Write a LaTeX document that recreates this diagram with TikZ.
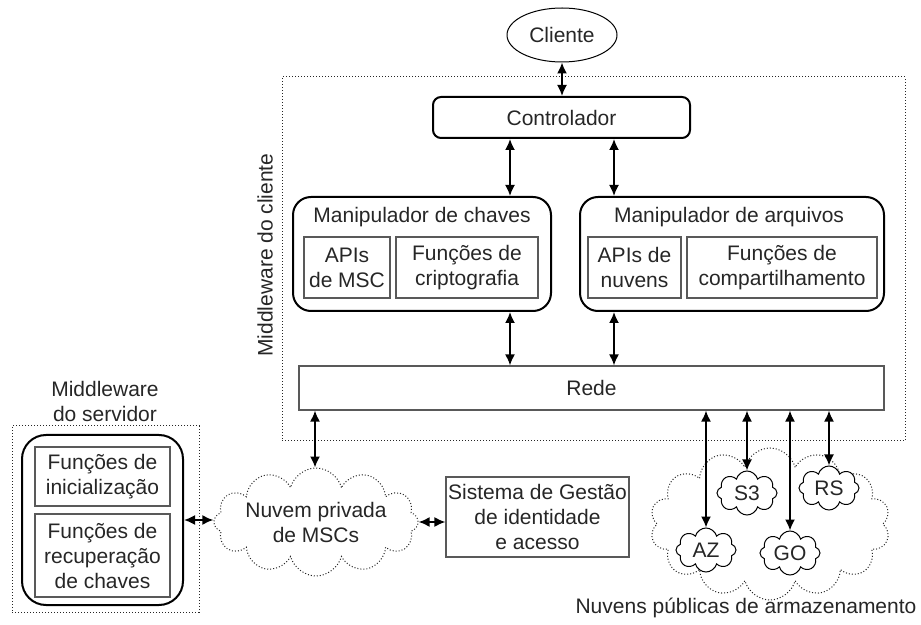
\documentclass[tikz,border=0pt]{standalone}
\usepackage{fontspec}
\setmainfont{Liberation Sans}
\usetikzlibrary{arrows.meta,shapes.geometric,shapes.symbols}
\begin{document}
\begin{tikzpicture}[x=0.5pt,y=-0.5pt,
  every node/.style={font=\fontsize{10.5}{12.5}\selectfont, text=black!85, inner sep=0pt, align=center},
  bigbox/.style={draw, line width=1pt, rounded corners=9pt},
  ctrlbox/.style={draw, line width=1pt, rounded corners=4pt},
  innerbox/.style={draw=black!65, line width=0.6pt},
  dotbox/.style={draw=black!85, densely dotted, line width=0.5pt},
  arr/.style={{Latex[length=5.5pt,width=5pt]}-{Latex[length=5.5pt,width=5pt]}, line width=0.85pt},
  bigcloud/.style={cloud, cloud puffs=14, cloud ignores aspect, draw=black!85, densely dotted, line width=0.5pt, fill=white},
  smallcloud/.style={cloud, cloud puffs=8, cloud ignores aspect, draw, line width=0.5pt, fill=white, minimum width=30pt, minimum height=22pt}
]
\useasboundingbox (0,0) rectangle (921,625);

% Client side
\node[ellipse, draw, line width=0.5pt, minimum width=55pt, minimum height=27pt] (cli) at (562,35) {Cliente};
\node[dotbox, minimum width=311.5pt, minimum height=182pt] (cmw) at (593.5,259) {};
\node[rotate=90] (cmwlabel) at (265,255) {Middleware do cliente};

\node[ctrlbox, minimum width=128.5pt, minimum height=20.5pt] (ctrl) at (561.5,117.5) {Controlador};

\node[bigbox, minimum width=129pt, minimum height=57pt] (mk) at (422,254) {};
\node (mklabel) at (422,217) {Manipulador de chaves};
\node[innerbox, minimum width=43pt, minimum height=30.5pt] (apimsc) at (347,267.5) {APIs\\de MSC};
\node[innerbox, minimum width=71pt, minimum height=30.5pt] (fcrip) at (467,267.5) {Funções de\\criptografia};

\node[bigbox, minimum width=152pt, minimum height=57pt] (ma) at (732,254) {};
\node (malabel) at (729,217) {Manipulador de arquivos};
\node[innerbox, minimum width=46.5pt, minimum height=30.5pt] (apinuv) at (634.5,267.5) {APIs de\\nuvens};
\node[innerbox, minimum width=95pt, minimum height=30.5pt] (fcomp) at (782,267.5) {Funções de\\compartilhamento};

\node[innerbox, minimum width=292.5pt, minimum height=22pt] (rede) at (591.5,388) {Rede};

\coordinate (xa) at (510,0);
\coordinate (xb) at (614,0);
\coordinate (xc) at (315,0);

\draw[arr] (cli.south) -- (cli.south |- ctrl.north);
\draw[arr] (xa |- ctrl.south) -- (xa |- mk.north);
\draw[arr] (xb |- ctrl.south) -- (xb |- ma.north);
\draw[arr] (xa |- mk.south) -- (xa |- rede.north);
\draw[arr] (xb |- ma.south) -- (xb |- rede.north);

% Server side
\node[dotbox, minimum width=93.5pt, minimum height=93pt] (smw) at (105.5,519) {};
\node (smwlabel) at (105,401) {Middleware\\do servidor};
\node[draw, line width=1pt, rounded corners=12pt, minimum width=80.5pt, minimum height=85pt] (srv) at (102.5,520) {};
\node[innerbox, minimum width=67.5pt, minimum height=29.5pt] (finit) at (102.5,476.5) {Funções de\\inicialização};
\node[innerbox, minimum width=67.5pt, minimum height=41.5pt] (frec) at (102.5,555.5) {Funções de\\recuperação\\de chaves};

% Private cloud and identity system
\node[bigcloud, cloud puffs=12, minimum width=81pt, minimum height=54pt] (priv) at (316,522) {Nuvem privada\\de MSCs};
\node[innerbox, minimum width=91.5pt, minimum height=40pt] (sis) at (537.5,517) {Sistema de Gestão\\de identidade\\e acesso};

\draw[arr] (xc |- rede.south) -- (xc |- priv.north);
\draw[arr] (srv.east) -- (srv.east -| priv.west);
\draw[arr] (priv.east) -- (priv.east -| sis.west);

% Public clouds
\node[bigcloud, minimum width=120pt, minimum height=76pt] (pub) at (770,524) {};
\node (publabel) at (746,608) {Nuvens públicas de armazenamento};
\node[smallcloud] (s3) at (747,493) {S3};
\node[smallcloud] (rs) at (829,488) {RS};
\node[smallcloud] (az) at (706,550) {AZ};
\node[smallcloud] (go) at (790,553) {GO};

\draw[arr] (rede.south -| az) -- (az.north);
\draw[arr] (rede.south -| s3) -- (s3.north);
\draw[arr] (rede.south -| go) -- (go.north);
\draw[arr] (rede.south -| rs) -- (rs.north);
\end{tikzpicture}
\end{document}
